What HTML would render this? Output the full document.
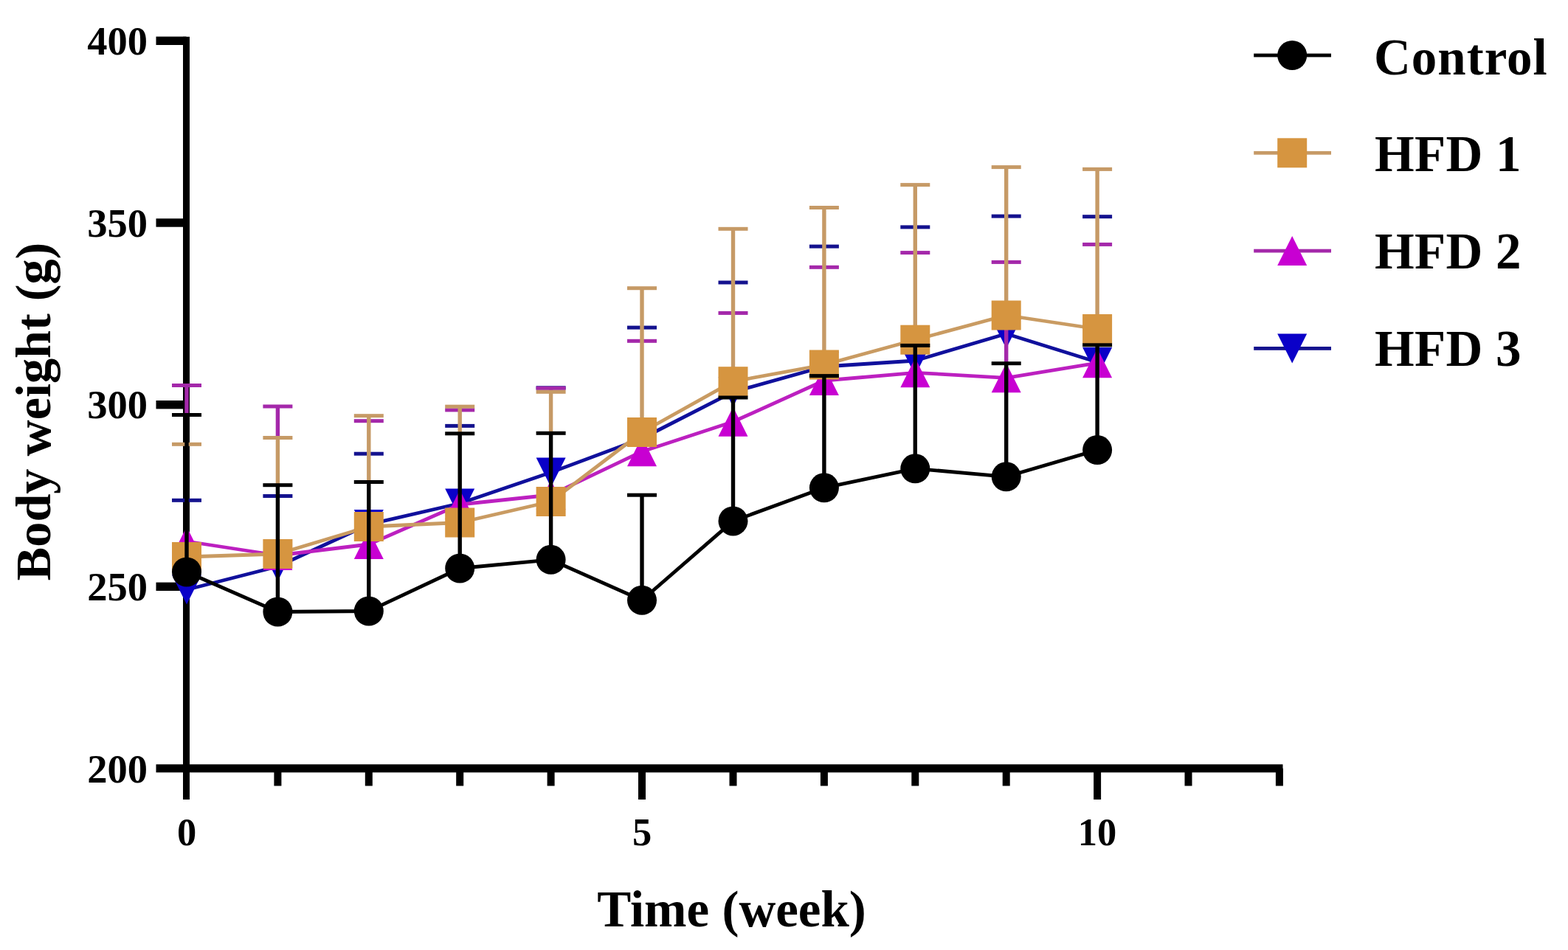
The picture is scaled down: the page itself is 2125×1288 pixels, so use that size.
<!DOCTYPE html>
<html lang="en">
<head>
<meta charset="utf-8">
<title>Body weight over time</title>
<style>
html,body{margin:0;padding:0;background:#fff;}
body{width:2125px;height:1288px;overflow:hidden;}
svg{display:block;filter:blur(0.6px);}
text{font-family:"Liberation Serif",serif;font-weight:bold;fill:#000;}
.tk{font-size:54.5px;}
.tx{font-size:52.5px;}
.lg{font-size:69px;}
.ti{font-size:69px;}
</style>
</head>
<body>
<svg width="2125" height="1288" viewBox="0 0 2125 1288">
<rect x="0" y="0" width="2125" height="1288" fill="#ffffff"/>
<g fill="#000000">
<rect x="248.0" y="49.8" width="9" height="1034.2"/>
<rect x="211.5" y="1036.3" width="1527.0" height="11"/>
<rect x="211.5" y="49.6" width="41.0" height="11.4"/>
<rect x="211.5" y="296.3" width="41.0" height="11.4"/>
<rect x="211.5" y="543.0" width="41.0" height="11.4"/>
<rect x="211.5" y="789.6" width="41.0" height="11.4"/>
<rect x="371.4" y="1041.8" width="10" height="23.7"/>
<rect x="494.8" y="1041.8" width="10" height="23.7"/>
<rect x="618.2" y="1041.8" width="10" height="23.7"/>
<rect x="741.6" y="1041.8" width="10" height="23.7"/>
<rect x="865.0" y="1041.8" width="10" height="42.2"/>
<rect x="988.5" y="1041.8" width="10" height="23.7"/>
<rect x="1111.9" y="1041.8" width="10" height="23.7"/>
<rect x="1235.3" y="1041.8" width="10" height="23.7"/>
<rect x="1358.7" y="1041.8" width="10" height="23.7"/>
<rect x="1482.1" y="1041.8" width="10" height="42.2"/>
<rect x="1605.5" y="1041.8" width="10" height="23.7"/>
<rect x="1728.9" y="1041.8" width="10" height="23.7"/>
</g>
<g>
<polyline points="253.0,799.5 376.4,768.0 499.8,711.0 623.2,682.5 746.6,640.5 870.0,594.5 993.5,531.4 1116.9,497.0 1240.3,489.0 1363.7,452.5 1487.1,491.0" fill="none" stroke="#10109C" stroke-width="4.8" stroke-linejoin="round"/>
<rect x="250.3" y="775.0" width="5.4" height="24.5" fill="#14128E"/>
<rect x="233.0" y="675.8" width="40" height="5" fill="#14128E"/>
<rect x="356.4" y="670.0" width="40" height="5" fill="#14128E"/>
<rect x="479.8" y="612.7" width="40" height="5" fill="#14128E"/>
<rect x="603.2" y="574.9" width="40" height="5" fill="#14128E"/>
<rect x="743.9" y="525.8" width="5.4" height="1.0" fill="#14128E"/>
<rect x="726.6" y="523.3" width="40" height="5" fill="#14128E"/>
<rect x="850.0" y="441.6" width="40" height="5" fill="#14128E"/>
<rect x="973.5" y="380.5" width="40" height="5" fill="#14128E"/>
<rect x="1096.9" y="331.6" width="40" height="5" fill="#14128E"/>
<rect x="1220.3" y="305.4" width="40" height="5" fill="#14128E"/>
<rect x="1343.7" y="290.6" width="40" height="5" fill="#14128E"/>
<rect x="1467.1" y="291.2" width="40" height="5" fill="#14128E"/>
<polygon points="233.0,779.5 273.0,779.5 253.0,819.5" fill="#0A00C8"/>
<polygon points="356.4,748.0 396.4,748.0 376.4,788.0" fill="#0A00C8"/>
<polygon points="479.8,691.0 519.8,691.0 499.8,731.0" fill="#0A00C8"/>
<polygon points="603.2,662.5 643.2,662.5 623.2,702.5" fill="#0A00C8"/>
<polygon points="726.6,620.5 766.6,620.5 746.6,660.5" fill="#0A00C8"/>
<polygon points="850.0,574.5 890.0,574.5 870.0,614.5" fill="#0A00C8"/>
<polygon points="973.5,511.4 1013.5,511.4 993.5,551.4" fill="#0A00C8"/>
<polygon points="1096.9,477.0 1136.9,477.0 1116.9,517.0" fill="#0A00C8"/>
<polygon points="1220.3,469.0 1260.3,469.0 1240.3,509.0" fill="#0A00C8"/>
<polygon points="1343.7,432.5 1383.7,432.5 1363.7,472.5" fill="#0A00C8"/>
<polygon points="1467.1,471.0 1507.1,471.0 1487.1,511.0" fill="#0A00C8"/>
</g>
<g>
<polyline points="253.0,734.0 376.4,753.0 499.8,738.0 623.2,684.0 746.6,671.0 870.0,612.2 993.5,571.8 1116.9,516.0 1240.3,505.3 1363.7,512.3 1487.1,492.2" fill="none" stroke="#BC20C0" stroke-width="4.8" stroke-linejoin="round"/>
<rect x="250.3" y="522.5" width="5.4" height="40.5" fill="#A428AA"/>
<rect x="233.0" y="520.0" width="40" height="5" fill="#A428AA"/>
<rect x="373.7" y="551.0" width="5.4" height="43.0" fill="#A428AA"/>
<rect x="356.4" y="548.5" width="40" height="5" fill="#A428AA"/>
<rect x="479.8" y="568.2" width="40" height="5" fill="#A428AA"/>
<rect x="603.2" y="553.4" width="40" height="5" fill="#A428AA"/>
<rect x="743.9" y="526.3" width="5.4" height="5.5" fill="#A428AA"/>
<rect x="726.6" y="523.8" width="40" height="5" fill="#A428AA"/>
<rect x="867.3" y="585.5" width="5.4" height="26.7" fill="#A428AA"/>
<rect x="850.0" y="459.8" width="40" height="5" fill="#A428AA"/>
<rect x="990.8" y="516.7" width="5.4" height="22.8" fill="#A428AA"/>
<rect x="973.5" y="421.9" width="40" height="5" fill="#A428AA"/>
<rect x="1114.2" y="494.0" width="5.4" height="16.1" fill="#A428AA"/>
<rect x="1096.9" y="359.8" width="40" height="5" fill="#A428AA"/>
<rect x="1237.6" y="460.2" width="5.4" height="8.7" fill="#A428AA"/>
<rect x="1220.3" y="340.1" width="40" height="5" fill="#A428AA"/>
<rect x="1361.0" y="427.0" width="5.4" height="66.2" fill="#A428AA"/>
<rect x="1343.7" y="352.9" width="40" height="5" fill="#A428AA"/>
<rect x="1484.4" y="445.5" width="5.4" height="22.8" fill="#A428AA"/>
<rect x="1467.1" y="328.9" width="40" height="5" fill="#A428AA"/>
<polygon points="253.0,714.0 273.0,754.0 233.0,754.0" fill="#C800D2"/>
<polygon points="376.4,733.0 396.4,773.0 356.4,773.0" fill="#C800D2"/>
<polygon points="499.8,718.0 519.8,758.0 479.8,758.0" fill="#C800D2"/>
<polygon points="623.2,664.0 643.2,704.0 603.2,704.0" fill="#C800D2"/>
<polygon points="746.6,651.0 766.6,691.0 726.6,691.0" fill="#C800D2"/>
<polygon points="870.0,592.2 890.0,632.2 850.0,632.2" fill="#C800D2"/>
<polygon points="993.5,551.8 1013.5,591.8 973.5,591.8" fill="#C800D2"/>
<polygon points="1116.9,496.0 1136.9,536.0 1096.9,536.0" fill="#C800D2"/>
<polygon points="1240.3,485.3 1260.3,525.3 1220.3,525.3" fill="#C800D2"/>
<polygon points="1363.7,492.3 1383.7,532.3 1343.7,532.3" fill="#C800D2"/>
<polygon points="1487.1,472.2 1507.1,512.2 1467.1,512.2" fill="#C800D2"/>
</g>
<g>
<polyline points="253.0,755.0 376.4,751.0 499.8,714.0 623.2,708.5 746.6,680.0 870.0,586.0 993.5,517.2 1116.9,494.5 1240.3,460.7 1363.7,427.5 1487.1,446.0" fill="none" stroke="#C99B62" stroke-width="4.8" stroke-linejoin="round"/>
<rect x="233.0" y="599.8" width="40" height="5" fill="#C69A66"/>
<rect x="373.7" y="593.5" width="5.4" height="64.7" fill="#C69A66"/>
<rect x="356.4" y="591.0" width="40" height="5" fill="#C69A66"/>
<rect x="497.1" y="563.7" width="5.4" height="90.3" fill="#C69A66"/>
<rect x="479.8" y="561.2" width="40" height="5" fill="#C69A66"/>
<rect x="620.5" y="551.2" width="5.4" height="37.1" fill="#C69A66"/>
<rect x="603.2" y="548.7" width="40" height="5" fill="#C69A66"/>
<rect x="743.9" y="531.3" width="5.4" height="56.5" fill="#C69A66"/>
<rect x="726.6" y="528.8" width="40" height="5" fill="#C69A66"/>
<rect x="867.3" y="390.8" width="5.4" height="195.2" fill="#C69A66"/>
<rect x="850.0" y="388.2" width="40" height="5" fill="#C69A66"/>
<rect x="990.8" y="310.3" width="5.4" height="206.9" fill="#C69A66"/>
<rect x="973.5" y="307.8" width="40" height="5" fill="#C69A66"/>
<rect x="1114.2" y="281.5" width="5.4" height="213.0" fill="#C69A66"/>
<rect x="1096.9" y="279.0" width="40" height="5" fill="#C69A66"/>
<rect x="1237.6" y="250.6" width="5.4" height="210.1" fill="#C69A66"/>
<rect x="1220.3" y="248.1" width="40" height="5" fill="#C69A66"/>
<rect x="1361.0" y="226.6" width="5.4" height="200.9" fill="#C69A66"/>
<rect x="1343.7" y="224.1" width="40" height="5" fill="#C69A66"/>
<rect x="1484.4" y="229.4" width="5.4" height="216.6" fill="#C69A66"/>
<rect x="1467.1" y="226.9" width="40" height="5" fill="#C69A66"/>
<rect x="233.0" y="735.0" width="40" height="40" fill="#D69540"/>
<rect x="356.4" y="731.0" width="40" height="40" fill="#D69540"/>
<rect x="479.8" y="694.0" width="40" height="40" fill="#D69540"/>
<rect x="603.2" y="688.5" width="40" height="40" fill="#D69540"/>
<rect x="726.6" y="660.0" width="40" height="40" fill="#D69540"/>
<rect x="850.0" y="566.0" width="40" height="40" fill="#D69540"/>
<rect x="973.5" y="497.2" width="40" height="40" fill="#D69540"/>
<rect x="1096.9" y="474.5" width="40" height="40" fill="#D69540"/>
<rect x="1220.3" y="440.7" width="40" height="40" fill="#D69540"/>
<rect x="1343.7" y="407.5" width="40" height="40" fill="#D69540"/>
<rect x="1467.1" y="426.0" width="40" height="40" fill="#D69540"/>
</g>
<g>
<polyline points="253.0,775.5 376.4,829.5 499.8,828.5 623.2,770.5 746.6,758.8 870.0,813.8 993.5,706.4 1116.9,661.3 1240.3,635.3 1363.7,646.3 1487.1,610.1" fill="none" stroke="#000000" stroke-width="4.8" stroke-linejoin="round"/>
<rect x="250.3" y="562.5" width="5.4" height="213.0" fill="#000000"/>
<rect x="233.0" y="560.0" width="40" height="5" fill="#000000"/>
<rect x="373.7" y="657.7" width="5.4" height="171.8" fill="#000000"/>
<rect x="356.4" y="655.2" width="40" height="5" fill="#000000"/>
<rect x="497.1" y="653.5" width="5.4" height="175.0" fill="#000000"/>
<rect x="479.8" y="651.0" width="40" height="5" fill="#000000"/>
<rect x="620.5" y="587.8" width="5.4" height="182.7" fill="#000000"/>
<rect x="603.2" y="585.3" width="40" height="5" fill="#000000"/>
<rect x="743.9" y="587.3" width="5.4" height="171.5" fill="#000000"/>
<rect x="726.6" y="584.8" width="40" height="5" fill="#000000"/>
<rect x="867.3" y="671.2" width="5.4" height="142.6" fill="#000000"/>
<rect x="850.0" y="668.7" width="40" height="5" fill="#000000"/>
<rect x="990.8" y="539.0" width="5.4" height="167.4" fill="#000000"/>
<rect x="973.5" y="536.5" width="40" height="5" fill="#000000"/>
<rect x="1114.2" y="509.6" width="5.4" height="151.7" fill="#000000"/>
<rect x="1096.9" y="507.1" width="40" height="5" fill="#000000"/>
<rect x="1237.6" y="468.4" width="5.4" height="166.9" fill="#000000"/>
<rect x="1220.3" y="465.9" width="40" height="5" fill="#000000"/>
<rect x="1361.0" y="492.7" width="5.4" height="153.6" fill="#000000"/>
<rect x="1343.7" y="490.2" width="40" height="5" fill="#000000"/>
<rect x="1484.4" y="467.8" width="5.4" height="142.3" fill="#000000"/>
<rect x="1467.1" y="465.3" width="40" height="5" fill="#000000"/>
<circle cx="253.0" cy="775.5" r="20.0" fill="#000000"/>
<circle cx="376.4" cy="829.5" r="20.0" fill="#000000"/>
<circle cx="499.8" cy="828.5" r="20.0" fill="#000000"/>
<circle cx="623.2" cy="770.5" r="20.0" fill="#000000"/>
<circle cx="746.6" cy="758.8" r="20.0" fill="#000000"/>
<circle cx="870.0" cy="813.8" r="20.0" fill="#000000"/>
<circle cx="993.5" cy="706.4" r="20.0" fill="#000000"/>
<circle cx="1116.9" cy="661.3" r="20.0" fill="#000000"/>
<circle cx="1240.3" cy="635.3" r="20.0" fill="#000000"/>
<circle cx="1363.7" cy="646.3" r="20.0" fill="#000000"/>
<circle cx="1487.1" cy="610.1" r="20.0" fill="#000000"/>
</g>
<rect x="1699.2" y="72.6" width="104.8" height="4.8" fill="#000000"/>
<circle cx="1751.2" cy="75.0" r="20.0" fill="#000000"/>
<text class="lg" x="1862" y="100.6" letter-spacing="1.0">Control</text>
<rect x="1699.2" y="204.9" width="104.8" height="4.8" fill="#C69A66"/>
<rect x="1731.2" y="187.3" width="40" height="40" fill="#D69540"/>
<text class="lg" x="1863" y="232.0" letter-spacing="0.3">HFD 1</text>
<rect x="1699.2" y="337.70000000000005" width="104.8" height="4.8" fill="#A428AA"/>
<polygon points="1751.2,320.1 1771.2,360.1 1731.2,360.1" fill="#C800D2"/>
<text class="lg" x="1863" y="364.2" letter-spacing="0.3">HFD 2</text>
<rect x="1699.2" y="470.0" width="104.8" height="4.8" fill="#14128E"/>
<polygon points="1731.2,452.4 1771.2,452.4 1751.2,492.4" fill="#0A00C8"/>
<text class="lg" x="1863" y="496.0" letter-spacing="0.3">HFD 3</text>
<text class="tk" x="200" y="74.1" text-anchor="end">400</text>
<text class="tk" x="200" y="320.6" text-anchor="end">350</text>
<text class="tk" x="200" y="567.3" text-anchor="end">300</text>
<text class="tk" x="200" y="813.9" text-anchor="end">250</text>
<text class="tk" x="200" y="1060.6" text-anchor="end">200</text>
<text class="tx" x="253.0" y="1146" text-anchor="middle">0</text>
<text class="tx" x="870.0" y="1146" text-anchor="middle">5</text>
<text class="tx" x="1487.1" y="1146" text-anchor="middle">10</text>
<text class="ti" x="991.5" y="1256" text-anchor="middle">Time (week)</text>
<text class="ti" transform="translate(68,558) rotate(-90)" text-anchor="middle" style="font-size:68.2px">Body weight (g)</text>
</svg>
</body>
</html>
